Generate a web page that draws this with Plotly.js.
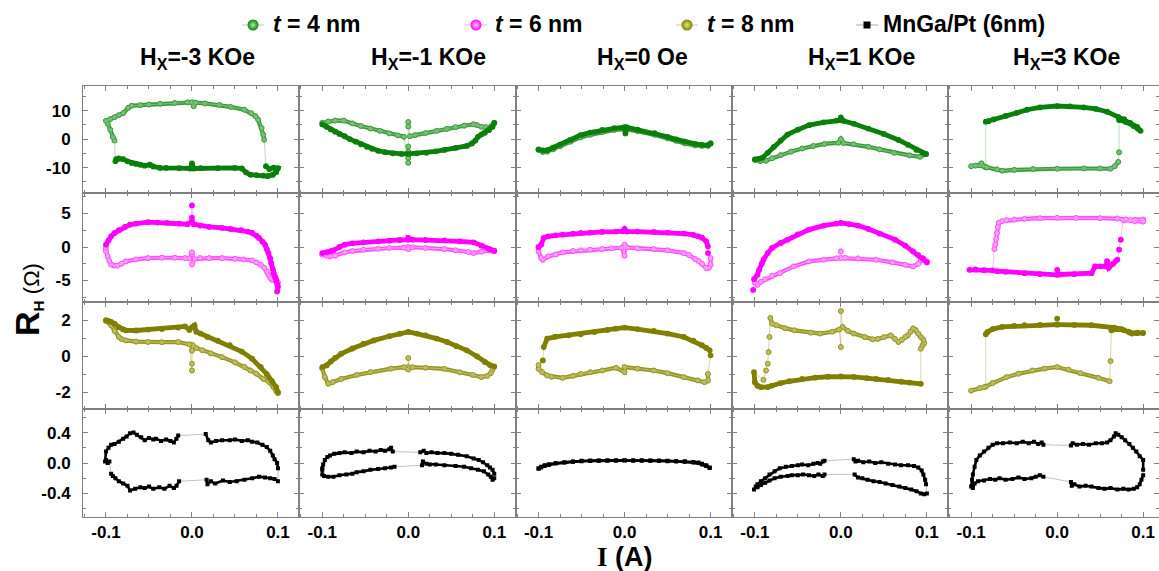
<!DOCTYPE html>
<html>
<head>
<meta charset="utf-8">
<script src="https://cdn.plot.ly/plotly-3.0.1.min.js"></script>
<style>
  html, body { margin: 0; padding: 0; background: #fff; }
  #chart { width: 1159px; height: 571px; }
</style>
</head>
<body>
<div id="chart"></div>
<script>
// Hall resistance loops R_H vs current I, four samples (rows) x five in-plane fields (columns).
// Each loop is stored as two sweep branches of [I, R_H] pairs; null marks a break in the band.

const seriesNames = ['<b><i>t</i> = 4 nm</b>', '<b><i>t</i> = 6 nm</b>', '<b><i>t</i> = 8 nm</b>', '<b>MnGa/Pt (6nm)</b>'];
const fieldLabels = ['H<sub>X</sub>=-3 KOe', 'H<sub>X</sub>=-1 KOe', 'H<sub>X</sub>=0 Oe', 'H<sub>X</sub>=1 KOe', 'H<sub>X</sub>=3 KOe'];
const xTickVals = [-0.1, 0, 0.1];
const xTickText = ['-0.1', '0.0', '0.1'];
const yTickVals = [[-10, 0, 10], [-5, 0, 5], [-2, 0, 2], [-0.4, 0, 0.4]];
const yTickText = [['-10', '0', '10'], ['-5', '0', '5'], ['-2', '0', '2'], ['-0.4', '0.0', '0.4']];

// ---- t = 4 nm ----
const r1c1_a = [[-0.09,-0.5],[-0.092,0.7],[-0.095,3.3],[-0.098,5.4],[-0.1,6.4],[-0.095,7.0],[-0.09,7.7],[-0.085,8.4],[-0.08,9.1],[-0.074,11.0],[-0.07,11.7],[-0.06,11.9],[-0.05,12.1],[-0.037,12.4],[-0.02,12.7],[-0.005,12.9],[0,12.9],[0.002,11.5],[0.004,12.8],[0.015,12.5],[0.032,12.0],[0.045,11.3],[0.061,10.3],[0.069,9.1],[0.074,8.0],[0.077,6.8],[0.081,3.9],[0.083,1.5],[0.084,-0.2]];
const r1c1_b = [[0.086,-9.5],[0.09,-10.5],[0.095,-10.0],[0.1,-10.2],[0.098,-11.5],[0.094,-12.5],[0.088,-13.0],[0.083,-12.8],[0.075,-12.6],[0.068,-12.5],[0.063,-11.7],[0.058,-10.3],[0.05,-10.1],[0.03,-10.2],[0.01,-10.2],[0.002,-10.3],[0,-8.5],[-0.002,-10.3],[-0.015,-10.2],[-0.03,-10.1],[-0.037,-10.1],[-0.045,-9.6],[-0.049,-9.0],[-0.055,-9.3],[-0.06,-9.0],[-0.065,-8.7],[-0.07,-8.4],[-0.075,-7.8],[-0.08,-7.0],[-0.085,-6.8],[-0.088,-7.0],[-0.089,-7.8]];

const r1c2_a = [[-0.1,5.2],[-0.095,4.3],[-0.09,3.4],[-0.085,2.6],[-0.08,1.8],[-0.074,1.0],[-0.068,0.0],[-0.061,-0.9],[-0.055,-1.8],[-0.048,-2.7],[-0.042,-3.4],[-0.035,-4.1],[-0.027,-4.6],[-0.018,-5.0],[-0.008,-5.2],[0,-5.2],[0.01,-5.0],[0.021,-4.8],[0.032,-4.3],[0.042,-3.8],[0.055,-3.1],[0.068,-2.4],[0.074,-1.5],[0.078,-0.5],[0.081,0.8],[0.085,1.6],[0.089,2.2],[0.094,3.2],[0.098,4.3],[0.1,5.7]];
const r1c2_b = [[0.1,5.7],[0.097,4.6],[0.094,4.0],[0.09,4.2],[0.085,4.3],[0.08,4.9],[0.076,5.2],[0.065,4.7],[0.055,4.2],[0.045,3.6],[0.033,2.9],[0.02,2.1],[0.008,1.4],[0.002,1.0],null,[0,6.0],null,[0,4.4],null,[0,-2.6],null,[0,-4.4],null,[0,-6.6],null,[0,-8.3],null,[-0.005,0.8],[-0.012,1.3],[-0.022,2.0],[-0.033,2.9],[-0.044,3.7],[-0.055,4.6],[-0.065,5.5],[-0.075,6.5],[-0.085,6.5],[-0.093,6.2],[-0.1,5.7]];

const r1c3_a = [[-0.1,-3.6],[-0.095,-4.0],[-0.09,-3.9],[-0.083,-3.0],[-0.075,-1.9],[-0.063,-0.3],[-0.051,1.4],[-0.04,2.3],[-0.026,3.2],[-0.012,3.8],[0,4.2],[0.001,2.0],[0.003,4.1],[0.015,3.3],[0.035,2.1],[0.05,0.8],[0.06,-0.1],[0.07,-0.9],[0.082,-1.7],[0.09,-2.0],[0.097,-2.1],[0.1,-1.5]];
const r1c3_b = [[0.1,-1.5],[0.097,-2.4],[0.09,-2.4],[0.082,-2.2],[0.07,-1.5],[0.06,-0.6],[0.05,0.3],[0.035,1.5],[0.015,2.8],[0,3.5],[-0.012,3.2],[-0.026,2.5],[-0.04,1.5],[-0.051,0.6],[-0.063,-0.9],[-0.075,-2.5],[-0.083,-3.6],[-0.09,-4.4],[-0.095,-4.5],[-0.1,-3.8]];

const r1c4_a = [[-0.1,-7.1],[-0.095,-6.9],[-0.091,-6.5],[-0.085,-4.8],[-0.078,-2.7],[-0.07,-0.5],[-0.062,1.6],[-0.05,3.3],[-0.037,4.9],[-0.02,5.9],[-0.005,6.5],[0,6.6],[0,7.6],[0.003,6.4],[0.015,5.4],[0.032,3.7],[0.05,1.8],[0.067,-0.3],[0.078,-2.0],[0.088,-3.8],[0.095,-4.8],[0.099,-5.2]];
const r1c4_b = [[0.099,-5.3],[0.092,-6.2],[0.08,-5.7],[0.062,-4.8],[0.045,-3.6],[0.032,-2.7],[0.015,-1.8],[0.003,-1.4],[0,0],[-0.003,-1.3],[-0.019,-1.7],[-0.032,-2.4],[-0.045,-3.3],[-0.058,-4.4],[-0.07,-5.6],[-0.08,-6.7],[-0.087,-7.6],[-0.094,-7.7],[-0.1,-7.3]];

const r1c5_a = [[-0.083,-9.9],[-0.09,-9.2],[-0.095,-9.3],[-0.1,-9.5],null,[-0.088,-8.5],[-0.085,-9.6],[-0.082,-9.9],[-0.07,-10.6],[-0.064,-11.1],[-0.05,-10.8],[-0.028,-10.5],[0,-10.4],[0.031,-10.3],[0.05,-10.3],[0.062,-10.4],[0.067,-9.5],[0.071,-8.0],null,[0.072,-4.6],null];
const r1c5_b = [[0.072,6.7],[0.08,6.0],[0.089,4.6],[0.094,3.6],[0.097,2.9],[0.093,4.3],[0.085,5.7],[0.078,7.0],[0.071,7.8],[0.058,9.6],[0.045,10.6],[0.031,11.1],[0.015,11.5],[0,11.6],[-0.02,11.1],[-0.035,10.3],[-0.047,9.2],[-0.06,8.1],[-0.074,6.9],[-0.08,6.3],[-0.083,6.1]];

// ---- t = 6 nm ----
const r2c1_a = [[-0.1,0.35],[-0.097,1.0],[-0.094,1.6],[-0.09,2.1],[-0.085,2.5],[-0.078,3.0],[-0.072,3.35],[-0.065,3.5],[-0.051,3.7],[-0.04,3.65],[-0.029,3.6],[-0.015,3.5],[-0.005,3.4],[0,3.85],null,[0,6.2],null,[0,4.4],null,[0.002,3.4],[0.0095,3.2],[0.02,3.0],[0.035,2.85],[0.045,2.7],[0.057,2.5],[0.065,2.3],[0.07,2.1],[0.075,1.7],[0.078,1.35],[0.082,0.8],[0.085,0.35],[0.087,-0.3],[0.089,-0.9],[0.091,-1.7],[0.092,-2.4],[0.094,-3.3],[0.095,-3.9],[0.097,-4.5],[0.098,-4.9],[0.099,-5.5],[0.1,-5.9],[0.099,-6.65]];
const r2c1_b = [[0.1,-5.3],[0.097,-5.0],[0.093,-4.9],[0.091,-4.6],[0.089,-4.15],[0.087,-3.65],[0.084,-3.1],[0.08,-2.65],[0.075,-2.3],[0.07,-2.0],[0.06,-1.85],[0.05,-1.75],[0.035,-1.65],[0.02,-1.65],[0.0095,-1.65],[0.003,-1.8],[0,-2.6],null,[0,-1.1],null,[0,-0.8],null,[-0.003,-1.7],[-0.008,-1.65],[-0.02,-1.6],[-0.035,-1.6],[-0.051,-1.65],[-0.065,-1.85],[-0.077,-2.15],[-0.082,-2.5],[-0.087,-2.8],[-0.091,-2.75],[-0.094,-2.6],[-0.096,-2.1],[-0.098,-1.4],[-0.1,-0.6],[-0.1,-0.15]];

const r2c2_a = [[-0.1,-0.9],[-0.095,-0.8],[-0.09,-0.6],[-0.087,-0.5],[-0.08,0.0],[-0.074,0.35],[-0.065,0.55],[-0.052,0.7],[-0.035,0.85],[-0.022,0.95],[-0.01,1.05],[0,1.1],[0,1.35],[0.005,1.1],[0.02,1.05],[0.042,1.0],[0.06,0.85],[0.076,0.7],[0.085,0.2],[0.094,-0.3],[0.1,-0.55]];
const r2c2_b = [[0.1,-0.65],[0.097,-0.55],[0.094,-0.5],[0.085,-0.7],[0.076,-0.9],[0.07,-0.75],[0.055,-0.5],[0.042,-0.3],[0.02,-0.15],[0.005,-0.05],[0,0],[0,-0.3],[-0.005,-0.1],[-0.022,-0.15],[-0.035,-0.25],[-0.052,-0.4],[-0.065,-0.6],[-0.074,-0.8],[-0.085,-1.3],[-0.091,-1.4],[-0.095,-1.3],[-0.1,-1.15]];

const r2c3_a = [[-0.1,0.0],[-0.097,0.35],[-0.094,1.35],[-0.089,1.6],[-0.08,1.75],[-0.072,1.85],[-0.06,2.0],[-0.051,2.1],[-0.04,2.15],[-0.026,2.25],[-0.01,2.3],[-0.002,2.35],[0,2.7],[0.003,2.3],[0.015,2.3],[0.034,2.25],[0.05,2.15],[0.069,2.0],[0.08,1.8],[0.086,1.6],[0.09,1.4],[0.095,0.85],[0.097,0.1],null,[0.097,-0.9],null];
const r2c3_b = [[0.1,-1.65],[0.1,-2.65],[0.098,-3.1],[0.095,-3.15],[0.09,-2.5],[0.086,-2.1],[0.082,-1.8],[0.075,-1.2],[0.069,-0.9],[0.05,-0.5],[0.034,-0.3],[0.015,-0.2],[0.003,-0.05],[0,0.35],[0,-1.3],[-0.003,-0.1],[-0.015,-0.2],[-0.026,-0.3],[-0.04,-0.4],[-0.051,-0.5],[-0.06,-0.6],[-0.072,-0.8],[-0.08,-1.1],[-0.089,-1.4],[-0.095,-1.9],[-0.097,-1.65],[-0.1,-0.65],[-0.1,0.0]];

const r2c4_a = [[-0.102,-6.4],null,[-0.101,-4.8],[-0.097,-4.15],[-0.095,-3.4],[-0.092,-2.5],[-0.09,-1.9],[-0.085,-0.9],[-0.08,-0.15],[-0.07,0.6],[-0.062,1.1],[-0.05,1.9],[-0.037,2.6],[-0.02,3.2],[-0.005,3.5],[0,3.6],[0.01,3.4],[0.02,3.2],[0.032,2.7],[0.045,2.0],[0.063,1.1],[0.075,0.2],[0.084,-0.65],[0.09,-1.2],[0.095,-1.65],[0.1,-2.3]];
const r2c4_b = [[0.1,-2.15],[0.097,-1.8],[0.093,-2.0],[0.09,-2.5],[0.084,-2.9],[0.075,-2.65],[0.06,-2.3],[0.041,-1.9],[0.02,-1.7],[0.005,-1.6],[0,-1.65],null,[0,-0.65],null,[-0.005,-1.7],[-0.02,-1.9],[-0.037,-2.15],[-0.055,-2.9],[-0.071,-3.9],[-0.08,-4.3],[-0.088,-4.8],[-0.093,-5.2],[-0.097,-5.65],[-0.1,-5.3]];

const r2c5_a = [[-0.075,-3.5],[-0.085,-3.45],[-0.095,-3.35],[-0.102,-3.4],null,[-0.07,-3.6],[-0.06,-3.7],[-0.038,-3.9],[-0.02,-4.05],[0,-4.15],null,[0,-3.4],null,[0.003,-4.1],[0.02,-4.05],[0.04,-3.9],[0.044,-2.9],[0.05,-2.9],[0.057,-2.9],[0.058,-2.1],[0.06,-3.1],[0.065,-2.5],[0.068,-2.1],[0.07,-1.9],null,[0.072,-0.4],null,[0.074,1.1],null];
const r2c5_b = [[0.077,4.0],[0.085,4.0],[0.091,4.05],[0.1,4.1],[0.1,3.8],[0.09,3.85],[0.08,4.1],[0.07,4.25],[0.05,4.3],[0.022,4.35],[0,4.35],[-0.02,4.3],[-0.038,4.2],[-0.05,4.1],[-0.059,4.0],[-0.064,3.85],[-0.068,3.6],[-0.069,3.0],[-0.07,2.1],[-0.071,1.2],[-0.072,0.35],[-0.073,-0.3]];

// ---- t = 8 nm ----
const r3c1_a = [[-0.1,2.0],[-0.097,1.95],[-0.094,1.9],[-0.09,1.8],[-0.085,1.6],[-0.08,1.48],[-0.077,1.43],[-0.065,1.42],[-0.051,1.47],[-0.035,1.5],[-0.016,1.58],[-0.008,1.65],[-0.003,1.45],[0,1.6],[0.003,1.7],[0.005,1.35],[0.01,1.25],[0.018,1.06],[0.03,0.85],[0.044,0.6],[0.058,0.25],[0.07,-0.15],[0.08,-0.6],[0.087,-1.0],[0.093,-1.4],[0.098,-1.73],[0.1,-2.0]];
const r3c1_b = [[0.1,-2.06],[0.098,-1.95],[0.095,-1.73],[0.09,-1.45],[0.083,-1.27],[0.075,-0.98],[0.068,-0.8],[0.061,-0.61],[0.05,-0.35],[0.035,-0.06],[0.022,0.15],[0.012,0.32],[0.005,0.45],[0.001,0.6],[0,0.3],null,[0,-0.43],null,[0,-0.8],null,[-0.003,0.65],[-0.016,0.78],[-0.035,0.77],[-0.051,0.78],[-0.065,0.8],[-0.077,0.87],[-0.082,0.95],[-0.085,1.06],[-0.09,1.4],[-0.094,1.71],[-0.1,1.95]];

const r3c2_a = [[-0.1,-0.61],[-0.095,-0.52],[-0.09,-0.3],[-0.085,-0.1],[-0.078,0.13],[-0.065,0.42],[-0.052,0.69],[-0.04,0.87],[-0.022,1.1],[-0.01,1.24],[0,1.34],[0.01,1.25],[0.02,1.15],[0.033,0.97],[0.045,0.78],[0.056,0.55],[0.068,0.32],[0.08,-0.02],[0.089,-0.33],[0.095,-0.5],[0.1,-0.58]];
const r3c2_b = [[0.098,-0.75],[0.096,-0.95],[0.092,-1.1],[0.085,-1.17],[0.075,-1.05],[0.06,-0.9],[0.042,-0.71],[0.02,-0.65],[0.005,-0.62],[0,-0.61],null,[0,-0.11],null,[0,-0.75],[-0.005,-0.62],[-0.02,-0.7],[-0.044,-0.89],[-0.06,-1.05],[-0.078,-1.27],[-0.088,-1.45],[-0.093,-1.54],[-0.097,-1.17],[-0.1,-0.7]];

const r3c3_a = [[-0.095,-0.24],null,[-0.094,0.5],[-0.09,0.97],[-0.081,1.06],[-0.065,1.15],[-0.051,1.21],[-0.035,1.33],[-0.02,1.45],[-0.01,1.52],[0,1.58],[0.015,1.5],[0.034,1.4],[0.05,1.25],[0.069,1.06],[0.08,0.85],[0.09,0.6],[0.095,0.45],[0.099,0.32],null,[0.1,0.04],null];
const r3c3_b = [[0.097,-0.99],[0.097,-1.36],[0.093,-1.45],[0.085,-1.35],[0.069,-1.17],[0.05,-0.95],[0.034,-0.8],[0.015,-0.7],[0,-0.61],[0,-0.89],[-0.01,-0.65],[-0.026,-0.8],[-0.04,-0.9],[-0.051,-0.99],[-0.06,-1.1],[-0.072,-1.21],[-0.085,-1.15],[-0.09,-1.08],[-0.096,-0.89],[-0.1,-0.71],[-0.1,-0.5]];

const r3c4_a = [[-0.101,-0.89],[-0.1,-1.45],[-0.097,-1.65],[-0.093,-1.73],[-0.085,-1.72],[-0.08,-1.64],[-0.07,-1.5],[-0.06,-1.4],[-0.045,-1.27],[-0.03,-1.2],[-0.015,-1.15],[0,-1.13],[0.015,-1.16],[0.03,-1.22],[0.041,-1.27],[0.055,-1.33],[0.07,-1.42],[0.08,-1.47],[0.093,-1.54]];
const r3c4_b = [[0.093,0.41],[0.095,0.6],[0.097,0.73],[0.096,0.9],[0.093,1.06],[0.09,1.25],[0.087,1.45],[0.084,1.53],[0.081,1.35],[0.078,1.15],[0.075,1.06],[0.071,0.9],[0.067,0.78],[0.063,0.95],[0.058,1.15],[0.05,1.05],[0.043,0.95],[0.037,0.93],[0.028,1.05],[0.015,1.25],[0.008,1.4],[0.002,1.62],null,[0,2.5],null,[0,0.5],null,[-0.002,1.47],[-0.01,1.35],[-0.024,1.25],[-0.035,1.3],[-0.054,1.43],[-0.065,1.55],[-0.075,1.71],[-0.08,1.8],[-0.082,2.12],null,[-0.083,1.06],null,[-0.084,0.22],null,[-0.085,-0.43],null,[-0.087,-0.8],null,[-0.09,-1.32]];

const r3c5_a = [[-0.083,-1.7],[-0.09,-1.78],[-0.1,-1.92],null,[-0.085,-1.73],[-0.075,-1.5],[-0.059,-1.17],[-0.045,-0.98],[-0.029,-0.8],[-0.015,-0.7],[0,-0.61],[0.013,-0.75],[0.027,-0.95],[0.048,-1.21],[0.061,-1.4],null,[0.062,-0.28],null];
const r3c5_b = [[0.063,1.43],[0.07,1.5],[0.078,1.43],[0.083,1.35],[0.087,1.25],[0.093,1.28],[0.1,1.28],[0.093,1.3],[0.085,1.3],[0.075,1.5],[0.066,1.58],[0.04,1.71],[0.02,1.73],[0.001,1.75],null,[0,2.08],null,[-0.001,1.75],[-0.02,1.73],[-0.038,1.71],[-0.05,1.68],[-0.064,1.62],[-0.075,1.5],[-0.081,1.34],[-0.083,1.21]];

// ---- MnGa/Pt (6nm) ----
const r4c1_a = [[-0.101,0.02],[-0.1,0.15],[-0.097,0.2],[-0.094,0.24],[-0.09,0.25],[-0.085,0.28],[-0.08,0.32],[-0.076,0.35],[-0.072,0.39],[-0.068,0.4],[-0.064,0.37],[-0.059,0.34],[-0.055,0.3],[-0.05,0.33],[-0.045,0.31],[-0.042,0.32],[-0.036,0.29],[-0.03,0.31],[-0.025,0.29],[-0.021,0.27],[-0.018,0.32],[-0.016,0.36],null,[0.016,0.38],[0.019,0.3],[0.022,0.27],[0.028,0.29],[0.035,0.3],[0.044,0.3],[0.05,0.31],[0.058,0.29],[0.065,0.3],[0.07,0.28],[0.076,0.27],[0.082,0.24],[0.087,0.21],[0.091,0.16],[0.094,0.1],[0.096,0.05],[0.099,0.0],[0.1,-0.07]];
const r4c1_b = [[0.1,-0.24],[0.096,-0.21],[0.091,-0.2],[0.085,-0.19],[0.078,-0.18],[0.07,-0.2],[0.061,-0.22],[0.052,-0.24],[0.044,-0.25],[0.036,-0.23],[0.027,-0.27],[0.022,-0.24],[0.018,-0.28],[0.017,-0.22],null,[-0.015,-0.24],[-0.018,-0.3],[-0.021,-0.33],[-0.026,-0.3],[-0.032,-0.34],[-0.038,-0.32],[-0.045,-0.34],[-0.05,-0.31],[-0.055,-0.33],[-0.06,-0.32],[-0.066,-0.34],[-0.072,-0.36],[-0.075,-0.3],[-0.08,-0.27],[-0.085,-0.24],[-0.089,-0.2],[-0.092,-0.17],[-0.094,-0.14],null,[-0.096,0.02],[-0.098,0.0],[-0.1,0.04]];

const r4c2_a = [[-0.1,-0.07],[-0.099,-0.02],[-0.097,0.04],[-0.094,0.08],[-0.091,0.1],[-0.086,0.12],[-0.08,0.13],[-0.074,0.14],[-0.066,0.13],[-0.06,0.15],[-0.052,0.14],[-0.045,0.16],[-0.038,0.15],[-0.032,0.17],[-0.027,0.16],[-0.022,0.18],[-0.02,0.2],[-0.018,0.15],null,[0.014,0.14],[0.018,0.16],[0.021,0.13],[0.027,0.14],[0.034,0.13],[0.042,0.13],[0.05,0.12],[0.058,0.11],[0.068,0.09],[0.076,0.06],[0.082,0.04],[0.087,0.01],[0.092,-0.03],[0.095,-0.06],[0.098,-0.09],[0.1,-0.14]];
const r4c2_b = [[0.1,-0.2],[0.098,-0.22],[0.096,-0.18],[0.093,-0.15],[0.088,-0.11],[0.081,-0.09],[0.073,-0.07],[0.065,-0.05],[0.055,-0.04],[0.042,-0.03],[0.032,-0.02],[0.025,-0.02],[0.021,-0.01],[0.017,0.02],[0.016,-0.03],null,[-0.016,-0.05],[-0.02,-0.06],[-0.027,-0.07],[-0.035,-0.08],[-0.044,-0.09],[-0.052,-0.11],[-0.06,-0.12],[-0.065,-0.14],[-0.072,-0.15],[-0.08,-0.16],[-0.087,-0.18],[-0.093,-0.18],[-0.098,-0.17],[-0.1,-0.15],[-0.1,-0.09]];

const r4c3_a = [[-0.1,-0.07],[-0.097,-0.05],[-0.093,-0.03],[-0.088,-0.015],[-0.08,0.0],[-0.07,0.01],[-0.06,0.02],[-0.05,0.03],[-0.04,0.032],[-0.03,0.034],[-0.02,0.035],[-0.01,0.036],[0,0.037],[0.01,0.036],[0.02,0.035],[0.03,0.034],[0.04,0.032],[0.05,0.03],[0.06,0.027],[0.07,0.022],[0.08,0.014],[0.086,0.005],[0.09,-0.01],[0.095,-0.03],[0.099,-0.06]];
const r4c3_b = [[0.099,-0.065],[0.095,-0.04],[0.09,-0.02],[0.08,0.005],[0.07,0.015],[0.06,0.02],[0.05,0.024],[0.04,0.027],[0.03,0.029],[0.02,0.03],[0.01,0.031],[0,0.032],[-0.01,0.031],[-0.02,0.03],[-0.03,0.028],[-0.04,0.026],[-0.05,0.023],[-0.06,0.015],[-0.07,0.005],[-0.08,-0.008],[-0.088,-0.025],[-0.093,-0.04],[-0.097,-0.06],[-0.1,-0.075]];

const r4c4_a = [[-0.101,-0.35],[-0.099,-0.31],[-0.097,-0.28],[-0.093,-0.24],[-0.088,-0.2],[-0.083,-0.15],[-0.077,-0.11],[-0.071,-0.07],[-0.064,-0.05],[-0.057,-0.04],[-0.05,-0.03],[-0.045,-0.02],[-0.038,-0.03],[-0.032,-0.01],[-0.027,0.0],[-0.024,-0.01],[-0.021,0.02],[-0.019,0.03],null,[0.015,0.05],[0.017,0.02],[0.02,0.03],[0.026,0.01],[0.033,0.02],[0.04,0.0],[0.047,0.01],[0.055,-0.01],[0.063,-0.02],[0.07,-0.03],[0.078,-0.03],[0.085,-0.04],[0.09,-0.06],[0.094,-0.1],[0.096,-0.15],[0.098,-0.22],[0.099,-0.28]];
const r4c4_b = [[0.1,-0.4],[0.097,-0.41],[0.093,-0.4],[0.088,-0.37],[0.082,-0.35],[0.075,-0.33],[0.068,-0.31],[0.06,-0.29],[0.052,-0.27],[0.045,-0.25],[0.038,-0.24],[0.031,-0.22],[0.025,-0.2],[0.02,-0.19],[0.016,-0.15],null,[-0.019,-0.15],[-0.021,-0.17],[-0.026,-0.15],[-0.031,-0.17],[-0.037,-0.16],[-0.044,-0.15],[-0.05,-0.16],[-0.057,-0.16],[-0.062,-0.17],[-0.07,-0.18],[-0.077,-0.2],[-0.083,-0.23],[-0.088,-0.26],[-0.093,-0.29],[-0.097,-0.32]];

const r4c5_a = [[-0.1,-0.31],[-0.099,-0.22],[-0.098,-0.15],[-0.096,-0.05],[-0.094,0.04],[-0.09,0.1],[-0.085,0.15],[-0.08,0.2],[-0.075,0.24],[-0.07,0.26],[-0.063,0.26],[-0.055,0.27],[-0.047,0.26],[-0.04,0.28],[-0.033,0.26],[-0.027,0.28],[-0.022,0.25],[-0.018,0.27],[-0.016,0.24],null,[0.016,0.23],[0.018,0.26],[0.023,0.24],[0.03,0.25],[0.037,0.24],[0.045,0.26],[0.052,0.26],[0.058,0.27],[0.062,0.3],[0.066,0.35],[0.068,0.39],[0.071,0.37],[0.075,0.34],[0.079,0.3],[0.084,0.25],[0.088,0.2],[0.092,0.15],[0.096,0.09],[0.1,0.04],[0.1,-0.09]];
const r4c5_b = [[0.1,-0.16],[0.098,-0.22],[0.096,-0.28],[0.093,-0.32],[0.089,-0.34],[0.083,-0.35],[0.077,-0.34],[0.07,-0.35],[0.062,-0.33],[0.055,-0.34],[0.048,-0.33],[0.04,-0.31],[0.033,-0.3],[0.026,-0.31],[0.02,-0.28],[0.017,-0.3],[0.016,-0.25],null,[-0.016,-0.18],[-0.02,-0.16],[-0.025,-0.18],[-0.03,-0.2],[-0.038,-0.21],[-0.045,-0.19],[-0.052,-0.21],[-0.06,-0.22],[-0.067,-0.2],[-0.072,-0.22],[-0.078,-0.21],[-0.085,-0.23],[-0.092,-0.24],[-0.096,-0.27],[-0.098,-0.33]];

const loops = [
  [[r1c1_a, r1c1_b], [r1c2_a, r1c2_b], [r1c3_a, r1c3_b], [r1c4_a, r1c4_b], [r1c5_a, r1c5_b]],
  [[r2c1_a, r2c1_b], [r2c2_a, r2c2_b], [r2c3_a, r2c3_b], [r2c4_a, r2c4_b], [r2c5_a, r2c5_b]],
  [[r3c1_a, r3c1_b], [r3c2_a, r3c2_b], [r3c3_a, r3c3_b], [r3c4_a, r3c4_b], [r3c5_a, r3c5_b]],
  [[r4c1_a, r4c1_b], [r4c2_a, r4c2_b], [r4c3_a, r4c3_b], [r4c4_a, r4c4_b], [r4c5_a, r4c5_b]]
];

// ---- styling ----
const W = 1159, H = 571;
const FONT = 'Liberation Sans, Arial, sans-serif';
const rowStyle = [
  { base: '#0b7f0b', open: '#3d993d', core: '#78bf78', thin: 'rgba(11,127,11,0.35)', sym: 'circle', size: 5.8, band: 4.8, hi: '#a8eaa8' },
  { base: '#ff00ff', open: '#ff4dff', core: '#ff9cff', thin: 'rgba(255,0,255,0.35)', sym: 'circle', size: 5.8, band: 4.8, hi: '#ffc8ff' },
  { base: '#7f7f00', open: '#959522', core: '#bcbc60', thin: 'rgba(127,127,0,0.4)', sym: 'circle', size: 5.8, band: 4.8, hi: '#e6e680' },
  { base: '#000000', open: '#000000', core: null, thin: 'rgba(0,0,0,0.3)', sym: 'square', size: 4, band: 2.6, hi: '#000000' }
];
// which branch of each loop is drawn with open symbols: 'a' or 'b'
const hollowBranch = [
  ['a', 'b', 'b', 'b', 'a'],
  ['b', 'b', 'b', 'b', 'b'],
  ['b', 'b', 'b', 'b', 'a'],
  [null, null, null, null, null]
];
const colLeft = [83, 299.3, 515.6, 731.9, 948.2];
const colWidth = 216.3;
const rowTop = [85.5, 193, 301.5, 409];
const rowBottom = [193, 301.5, 409, 517];
const pxPerAmp = 860;
const xLeftVal = -0.1267;
const yRanges = [[-18.9, 18.8], [-8.13, 8.06], [-2.94, 3.03], [-0.71, 0.71]];
const yMinor = [5, 2.5, 1, 0.2];

const xs = arr => arr.map(p => p ? p[0] : null);
const ys = arr => arr.map(p => p ? p[1] : null);

const traces = [];
const layout = {
  width: W, height: H,
  margin: { l: 0, r: 0, t: 0, b: 0 },
  paper_bgcolor: '#ffffff', plot_bgcolor: 'rgba(0,0,0,0)',
  font: { family: FONT, color: '#000' },
  showlegend: false,
  annotations: [],
  hovermode: false
};

function band(pts, st, xa, ya, hollow) {
  const col = hollow ? st.open : st.base;
  traces.push({
    x: xs(pts), y: ys(pts), xaxis: xa, yaxis: ya,
    mode: 'lines+markers', connectgaps: false,
    line: { color: col, width: hollow ? st.band - 0.6 : st.band },
    marker: { symbol: st.sym, size: hollow ? st.size - 0.8 : st.size, color: hollow ? st.core || col : col,
              line: { color: col, width: hollow ? 1 : 0 } },
    hoverinfo: 'skip'
  });
  if (hollow && st.core) {
    // pale core inside the band gives the open-symbol look
    traces.push({
      x: xs(pts), y: ys(pts), xaxis: xa, yaxis: ya,
      mode: 'lines', connectgaps: false,
      line: { color: st.core, width: 1.1 },
      hoverinfo: 'skip'
    });
  }
}

for (let r = 0; r < 4; r++) {
  for (let c = 0; c < 5; c++) {
    const k = r * 5 + c + 1;
    const xa = k === 1 ? 'x' : 'x' + k;
    const ya = k === 1 ? 'y' : 'y' + k;
    const left = colLeft[c];
    const right = Math.min(left + colWidth, W);
    const st = rowStyle[r];
    const [A, B] = loops[r][c];

    // full sweep path as a thin connecting line (bridges jumps and gaps)
    const firstA = A.find(p => p);
    const path = A.concat(B, [firstA]);
    traces.push({
      x: xs(path), y: ys(path), xaxis: xa, yaxis: ya,
      mode: 'lines', connectgaps: true,
      line: { color: st.thin, width: 0.8 },
      hoverinfo: 'skip'
    });
    // open branch first so the filled branch sits on top where they cross
    const aHollow = hollowBranch[r][c] === 'a';
    const bHollow = hollowBranch[r][c] === 'b';
    if (aHollow) { band(A, st, xa, ya, true); band(B, st, xa, ya, false); }
    else { band(B, st, xa, ya, bHollow); band(A, st, xa, ya, false); }

    const xKey = k === 1 ? 'xaxis' : 'xaxis' + k;
    const yKey = k === 1 ? 'yaxis' : 'yaxis' + k;
    const common = {
      showline: true, linecolor: '#808080', linewidth: 1, mirror: 'ticks',
      ticks: 'inside', ticklen: 5, tickwidth: 1, tickcolor: '#808080',
      showgrid: false, zeroline: false, fixedrange: true,
      tickfont: { family: FONT, size: 17, color: '#000', weight: 'bold' }
    };
    layout[xKey] = Object.assign({}, common, {
      domain: [left / W, right / W],
      range: [xLeftVal, xLeftVal + (right - left) / pxPerAmp],
      anchor: ya,
      tickmode: 'array', tickvals: xTickVals, ticktext: xTickText,
      showticklabels: r === 3,
      minor: { dtick: 0.025, tick0: 0, ticks: 'inside', ticklen: 3, tickcolor: '#808080' }
    });
    layout[yKey] = Object.assign({}, common, {
      domain: [1 - rowBottom[r] / H, 1 - rowTop[r] / H],
      range: yRanges[r],
      anchor: xa,
      tickmode: 'array', tickvals: yTickVals[r], ticktext: yTickText[r],
      showticklabels: c === 0, ticklabelstandoff: 8,
      minor: { dtick: yMinor[r], tick0: 0, ticks: 'inside', ticklen: 3, tickcolor: '#808080' }
    });
  }
}

// key along the top: drawn on an overlay axis measured in page pixels
const keyMarkerX = [253, 476, 687, 867];
const keyTextX = [271, 493, 705, 881];
const keyY = 25;
layout.xaxis21 = { domain: [0, 1], range: [0, W], visible: false, fixedrange: true, anchor: 'y21' };
layout.yaxis21 = { domain: [0, 1], range: [H, 0], visible: false, fixedrange: true, anchor: 'x21' };
seriesNames.forEach((name, i) => {
  const st = rowStyle[i];
  traces.push({
    x: [keyMarkerX[i] - 11, keyMarkerX[i] + 11], y: [keyY, keyY], xaxis: 'x21', yaxis: 'y21',
    mode: 'lines', line: { color: i === 3 ? 'rgba(0,0,0,0.35)' : st.thin, width: 1 }, hoverinfo: 'skip'
  });
  traces.push({
    x: [keyMarkerX[i]], y: [keyY], xaxis: 'x21', yaxis: 'y21', mode: 'markers', hoverinfo: 'skip',
    marker: i === 3
      ? { symbol: 'square', size: 7, color: '#000' }
      : { symbol: 'circle', size: 11, color: st.base, gradient: { type: 'radial', color: st.hi } }
  });
  layout.annotations.push({
    text: name, xref: 'paper', yref: 'paper',
    x: keyTextX[i] / W, y: 1 - (keyY - 1) / H, xanchor: 'left', yanchor: 'middle',
    showarrow: false, font: { family: FONT, size: 23, color: '#000' }
  });
});

// column titles
const titleX = [197, 428, 642, 861, 1066];
fieldLabels.forEach((t, c) => {
  layout.annotations.push({
    text: '<b>' + t + '</b>', xref: 'paper', yref: 'paper',
    x: titleX[c] / W, y: 1 - 58 / H, xanchor: 'center', yanchor: 'middle',
    showarrow: false, font: { family: FONT, size: 23, color: '#000' }
  });
});

// axis titles
layout.annotations.push({
  text: '<b><span style="font-size:34px">R</span><sub>H</sub></b> (Ω)',
  xref: 'paper', yref: 'paper', x: 27 / W, y: 1 - 300 / H,
  xanchor: 'center', yanchor: 'middle', textangle: -90, showarrow: false,
  font: { family: FONT, size: 22, color: '#000' }
});
layout.annotations.push({
  text: '<b><span style="font-family:Liberation Serif, Times New Roman, serif">I</span> (A)</b>',
  xref: 'paper', yref: 'paper', x: 625 / W, y: 1 - 557 / H,
  xanchor: 'center', yanchor: 'middle', showarrow: false,
  font: { family: FONT, size: 27, color: '#000' }
});

Plotly.newPlot('chart', traces, layout, { displayModeBar: false, staticPlot: true });
</script>
</body>
</html>
